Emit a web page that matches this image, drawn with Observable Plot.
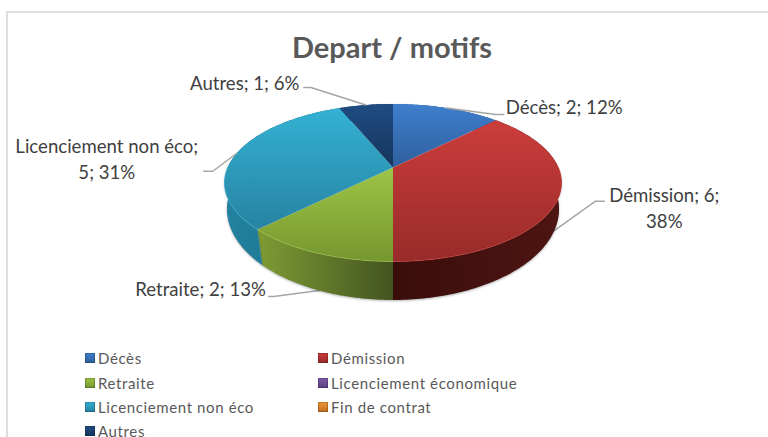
<!DOCTYPE html>
<html lang="fr">
<head>
<meta charset="utf-8">
<script src="https://cdn.jsdelivr.net/npm/d3@7"></script>
<script src="https://cdn.jsdelivr.net/npm/@observablehq/plot@0.6"></script>
<style>
html,body{margin:0;padding:0;background:#fff;width:768px;height:437px;overflow:hidden;font-family:Lato,"Open Sans",sans-serif}
#frame{position:absolute;left:6px;top:11px;width:790px;height:450px;border:2px solid #dedede;box-sizing:border-box}
#title{position:absolute;left:0;top:29px;width:784px;text-align:center;font:bold 29px Lato,sans-serif;color:#595959;line-height:36px}
#chart{position:absolute;left:0;top:65px}
#legend{position:absolute;left:0;top:0;width:768px;height:437px;font:15px Lato,sans-serif;color:#595959;letter-spacing:.62px;overflow:hidden;pointer-events:none}
.item{position:absolute;white-space:nowrap;line-height:18px}
.sw{position:absolute;left:-13px;top:4px;width:10px;height:10px;box-shadow:inset 0 0 1px 1px rgba(0,0,0,.22)}
.side{filter:drop-shadow(0 1px 1.2px rgba(0,0,0,.3))}
</style>
</head>
<body>
<div id="frame"></div>
<div id="title">Depart / motifs</div>
<div id="chart"></div>
<div id="legend"></div>
<script>
const categories = ["Décès","Démission","Retraite","Licenciement économique","Licenciement non éco","Fin de contrat","Autres"];
const counts = [2,6,2,0,5,0,1];
const percents = [12,38,13,0,31,0,6];
const topLight = ["#3f7fcd","#cb3d3b","#9dc546","#7f5aa8","#34b1d3","#f59a3a","#1f4c82"];
const topDark  = ["#2f5f9d","#982b2a","#76962f","#5c3f80","#2783a2","#c06f1d","#15355c"];
const sideLight = ["#2f5f9d","#4e1512","#7f9c35","#5c3f80","#23829f","#c06f1d","#15355c"];
const sideDark  = ["#24497a","#3a0d0b","#435420","#452f60","#1a6f8a","#8f5215","#102845"];

// label layout: pixel offsets of leader elbow, leader end and text from the slice's rim point
const labelLayout = {
  "Décès":{edge:"top",elbow:[49,6.5],end:[57,6.5],text:[59,-2],anchor:"start",lines:["Décès; 2; 12%"]},
  "Démission":{edge:"bottom",elbow:[41.2,-29.5],end:[50.2,-29.5],text:[110,-24.2],anchor:"middle",lines:["Démission; 6;","38%"]},
  "Retraite":{edge:"bottom",elbow:[-45.8,6],end:[-50.8,6],text:[-53.5,-2.6],anchor:"end",lines:["Retraite; 2; 13%"]},
  "Licenciement non éco":{edge:"top",elbow:[-24,18],end:[-33,18],text:[-130,4],anchor:"middle",lines:["Licenciement non éco;","5; 31%"]},
  "Autres":{edge:"top",elbow:[-55,-17.5],end:[-62,-17.5],text:[-66.5,-23.5],anchor:"end",lines:["Autres; 1; 6%"]}
};

const R = 168.5, CX = 392.5, SVGH = 275, SVGTOP = 65, APEX = 167;
const topPlane = {a:165.3/R, b:75.8/R, y0:0, k:0.1937};
const botPlane = {a:163.9/R, b:88.5/R, y0:(APEX-194.1)/R, k:0.16};
const APEX_Y = APEX - SVGTOP;
const project = (p,deg)=>{
  const t = deg*Math.PI/180, u = Math.sin(t), v = Math.cos(t), w = 1+p.k*v;
  return {x:p.a*u/w, y:p.y0 + p.b*v/w};
};
const total = d3.sum(counts);
let acc = 0;
const slices = categories.map((name,i)=>{
  const start = acc/total*360; acc += counts[i];
  return {name,i,value:counts[i],pct:percents[i],start,end:acc/total*360};
}).filter(s=>s.value>0);
const arc = (p,a,b)=>d3.range(0,Math.ceil(b-a)+1).map(j=>project(p,Math.min(a+j,b)));

const defs = ()=>{
  const ns="http://www.w3.org/2000/svg";
  const d=document.createElementNS(ns,"defs");
  const add=(id,c1,c2,vert)=>{
    const g=document.createElementNS(ns,"linearGradient");
    g.setAttribute("id",id);g.setAttribute("x1",0);g.setAttribute("y1",0);
    g.setAttribute("x2",vert?0:1);g.setAttribute("y2",vert?1:0);
    [[0,c1],[1,c2]].forEach(([o,c])=>{const s=document.createElementNS(ns,"stop");
      s.setAttribute("offset",o);s.setAttribute("stop-color",c);g.appendChild(s);});
    d.appendChild(g);
  };
  slices.forEach(s=>{
    add("top"+s.i,topLight[s.i],topDark[s.i],true);
    if(s.name==="Démission") add("side"+s.i,sideDark[s.i],sideLight[s.i],false);
    else add("side"+s.i,sideLight[s.i],sideDark[s.i],false);
  });
  return d;
};

const sideMarks = slices.map(s=>Plot.line(
  [...arc(topPlane,s.start,s.end),...arc(botPlane,s.start,s.end).reverse()],
  {x:"x",y:"y",fill:`url(#side${s.i})`,stroke:"none",className:"side"}));
const topMarks = slices.map(s=>Plot.line(
  [{x:0,y:0},...arc(topPlane,s.start,s.end)],
  {x:"x",y:"y",fill:`url(#top${s.i})`,stroke:"none"}));
const rimMarks = slices.filter(s=>s.end>90&&s.start<270).map(s=>Plot.line(
  arc(topPlane,Math.max(s.start,90),Math.min(s.end,270)),
  {x:"x",y:"y",stroke:topLight[s.i],strokeWidth:1,strokeOpacity:.6}));

const px = 1/R;
const leaderMarks = [], textRows = [];
slices.forEach(s=>{
  const L = labelLayout[s.name], mid=(s.start+s.end)/2;
  const o = project(L.edge==="top"?topPlane:botPlane,mid);
  leaderMarks.push(Plot.line([
    o,
    {x:o.x+L.elbow[0]*px,y:o.y-L.elbow[1]*px},
    {x:o.x+L.end[0]*px,y:o.y-L.end[1]*px}
  ],{x:"x",y:"y",stroke:"#a6a6a6",strokeWidth:1.5}));
  textRows.push({x:o.x+L.text[0]*px,y:o.y-L.text[1]*px,label:L.lines.join("\n"),anchor:L.anchor});
});
const textMarks = ["start","middle","end"].map(a=>Plot.text(textRows.filter(d=>d.anchor===a),{
  x:"x",y:"y",text:"label",textAnchor:a,lineHeight:1.4,fontSize:18.6,fill:"#404040",fontFamily:"Lato, sans-serif"}));

const svg = Plot.plot({
  width:768,height:SVGH,margin:0,
  x:{domain:[-CX/R,(768-CX)/R],range:[0,768],axis:null},
  y:{domain:[-(SVGH-APEX_Y)/R,APEX_Y/R],range:[SVGH,0],axis:null},
  style:{background:"transparent",overflow:"visible"},
  marks:[defs,...leaderMarks.slice(1,3),...sideMarks,...topMarks,...rimMarks,leaderMarks[0],...leaderMarks.slice(3),...textMarks]
});
document.getElementById("chart").appendChild(svg);

// legend
const columns=[98,331], rows=[349,373.5,397.5,422];
const leg=document.getElementById("legend");
categories.forEach((c,n)=>{
  const el=document.createElement("div");el.className="item";
  el.style.left=columns[n%2]+"px";
  el.style.top=rows[Math.floor(n/2)]+"px";
  el.textContent=c;
  const sw=document.createElement("span");sw.className="sw";
  sw.style.background=`linear-gradient(${topLight[n]},${topDark[n]})`;
  el.appendChild(sw);leg.appendChild(el);
});
</script>
</body>
</html>
